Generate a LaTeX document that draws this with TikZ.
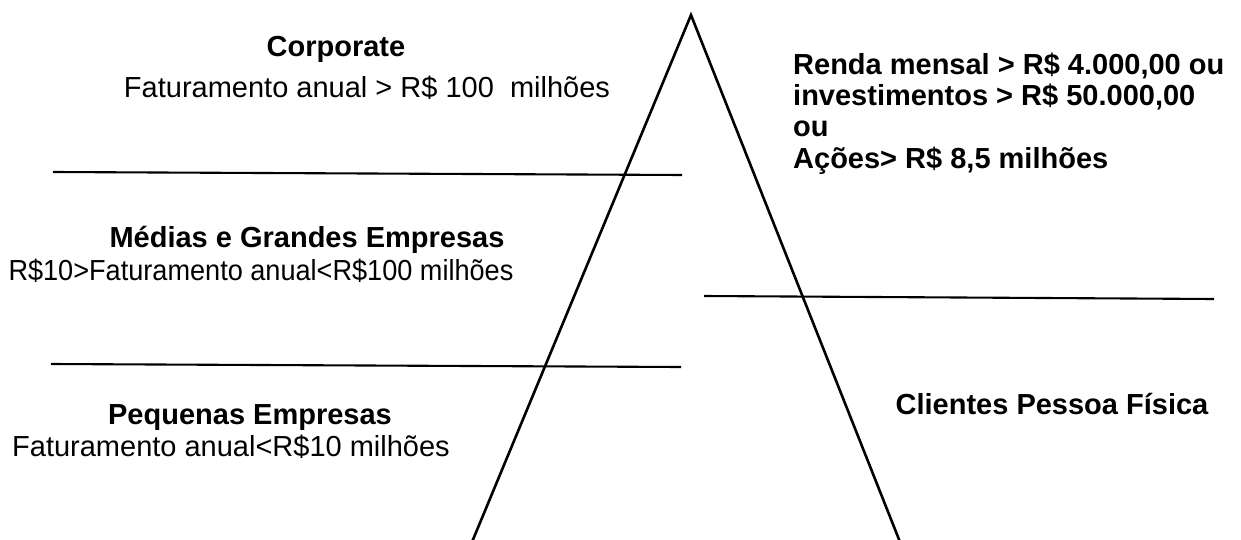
\documentclass[tikz,border=0pt]{standalone}
\usepackage{fontspec}
\setmainfont{Liberation Sans}
\begin{document}
\begin{tikzpicture}[x=1pt,y=-1pt,
  txt/.style={inner sep=0pt,anchor=base,font=\fontsize{29}{31}\selectfont},
  btxt/.style={txt,font=\fontsize{29}{31}\selectfont\bfseries},
  rtxt/.style={btxt,anchor=base west},
  edge/.style={line width=2.6pt,line join=miter},
  sep/.style={line width=2.1pt}]
\useasboundingbox[fill=white] (0,0) rectangle (1241,540);
% triangle
\coordinate (apex) at (691,15);
\coordinate (bl) at (472,542);
\coordinate (br) at (900,542);
\draw[edge] (bl) -- (apex) -- (br);
% separators
\coordinate (l1a) at (53,172);  \coordinate (l1b) at (682,175);
\coordinate (l2a) at (51,364);  \coordinate (l2b) at (681,367);
\coordinate (r1a) at (704,296); \coordinate (r1b) at (1214,299);
\draw[sep] (l1a) -- (l1b);
\draw[sep] (l2a) -- (l2b);
\draw[sep] (r1a) -- (r1b);
% left texts
\node[btxt] (corp) at (336,57) {Corporate};
\node[txt] (corpf) at (367,98) {Faturamento anual > R\$ 100\ \ milhões};
\node[btxt] (med) at (307,247) {Médias e Grandes Empresas};
\node[txt] (medf) at (261,280) {\scalebox{0.935}[1]{R\$10>Faturamento anual<R\$100 milhões}};
\node[btxt] (peq) at (250,424) {Pequenas Empresas};
\node[txt] (peqf) at (231,456) {Faturamento anual<R\$10 milhões};
% right texts
\node[rtxt] (r1) at (793,75) {Renda mensal > R\$ 4.000,00 ou};
\node[rtxt] (r2) at (793,106) {investimentos > R\$ 50.000,00};
\node[rtxt] (r3) at (793,137) {ou};
\node[rtxt] (r4) at (793,169) {Ações> R\$ 8,5 milhões};
\node[btxt] (pf) at (1052,414) {Clientes Pessoa Física};
\end{tikzpicture}
\end{document}
